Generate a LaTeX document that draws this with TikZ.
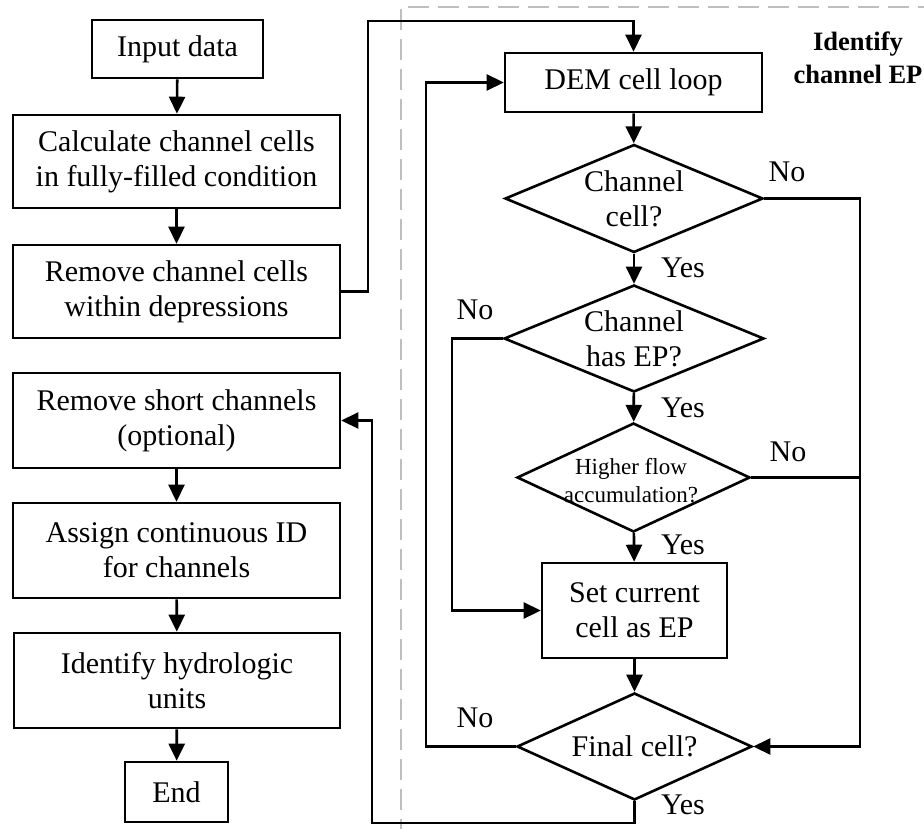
\documentclass[tikz,border=0pt]{standalone}
\usepackage{fontspec}
\setmainfont{Liberation Serif}
\usetikzlibrary{arrows.meta,shapes.geometric}

\tikzset{
  every picture/.style={x=1pt,y=-1pt},
  base/.style={font=\fontsize{30}{35}\selectfont, align=center},
  procbox/.style={base, draw, line width=2.6pt, inner sep=0pt},
  decision/.style={draw, diamond, line width=2.6pt, inner sep=0pt},
  dtext/.style={base},
  lbl/.style={font=\fontsize{30}{35}\selectfont, inner sep=0pt},
  flow/.style={line width=2.6pt, -{Triangle[length=17pt,width=16pt]}},
  plain/.style={line width=2.6pt},
  region/.style={draw=black!25, line width=2pt, dash pattern=on 21pt off 9pt},
}

\begin{document}
\begin{tikzpicture}
\useasboundingbox (0,0) rectangle (924,829);

% region of the end-point loop
\begin{scope}
  \clip (0,0) rectangle (924,829);
  \draw[region] (401,840) -- (401,7) -- (940,7);
\end{scope}
\node[font=\fontsize{26.5}{33}\selectfont\bfseries, align=center, inner sep=0pt]
  (title) at (858,58) {Identify\\channel EP};

% main sequence
\node[procbox, minimum width=171pt, minimum height=58pt] (in) at (177.5,49) {Input data};
\node[procbox, minimum width=327pt, minimum height=93pt] (calc) at (176.5,161.5)
  {Calculate channel cells\\in fully-filled condition};
\node[procbox, minimum width=327pt, minimum height=93pt] (rmdep) at (176.5,291.5)
  {Remove channel cells\\within depressions};
\node[procbox, minimum width=327pt, minimum height=95pt] (rmshort) at (176.5,420.5)
  {Remove short channels\\(optional)};
\node[procbox, minimum width=327pt, minimum height=95pt] (assign) at (176.5,550.5)
  {Assign continuous ID\\for channels};
\node[procbox, minimum width=326pt, minimum height=95pt] (hydro) at (177,680.5)
  {Identify hydrologic\\units};
\node[procbox, minimum width=103pt, minimum height=60pt] (end) at (176.5,792) {End};

% loop over DEM cells
\node[procbox, minimum width=257pt, minimum height=59pt] (dem) at (633.5,82.5) {DEM cell loop};

\node[decision, minimum width=258pt, minimum height=108pt] (d1) at (634,198.5) {};
\node[dtext] (d1t) at (d1.center) {Channel\\cell?};

\node[decision, minimum width=260pt, minimum height=107pt] (d2) at (634,338.5) {};
\node[dtext] (d2t) at (d2.center) {Channel\\has EP?};

\node[decision, minimum width=233pt, minimum height=109pt] (d3) at (633.5,477.5) {};
\node[base, font=\fontsize{23}{28}\selectfont] (d3t) at (631,481) {Higher flow\\accumulation?};

\node[procbox, minimum width=185pt, minimum height=95pt] (set) at (634.5,610.5)
  {Set current\\cell as EP};

\node[decision, minimum width=235pt, minimum height=107pt] (d4) at (634.5,746.5) {};
\node[dtext] (d4t) at (d4.center) {Final cell?};

% bend points
\coordinate (jA) at (368,21);
\coordinate (rc) at (860,746.5);
\coordinate (lA) at (452,610.5);
\coordinate (lB) at (426,746.5);
\coordinate (bA) at (372,823);

% connectors
\draw[flow] (in) -- (calc);
\draw[flow] (calc) -- (rmdep);
\draw[flow] (rmshort) -- (assign);
\draw[flow] (assign) -- (hydro);
\draw[flow] (hydro) -- (end);

\draw[flow] (rmdep.east) -| (jA) -| (dem.north);
\draw[flow] (dem) -- (d1);
\draw[flow] (d1) -- (d2);
\draw[flow] (d2) -- (d3);
\draw[flow] (d3) -- (set);
\draw[flow] (set) -- (d4);

\draw[flow] (d1.east) -| (rc) -- (d4.east);
\draw[plain] (d3.east) -- (d3.east -| rc);
\draw[flow] (d2.west) -| (lA) -- (set.west);
\draw[flow] (d4.west) -- (lB) |- (dem.west);
\draw[flow] (d4.south) |- (bA) |- (rmshort.east);

% branch labels
\node[lbl] (n1) at (787,172) {No};
\node[lbl] (y1) at (683,268) {Yes};
\node[lbl] (n2) at (475,310) {No};
\node[lbl] (y2) at (683,408) {Yes};
\node[lbl] (n3) at (788,452) {No};
\node[lbl] (y3) at (683,545) {Yes};
\node[lbl] (n4) at (475,718) {No};
\node[lbl] (y4) at (683,805) {Yes};
\end{tikzpicture}
\end{document}
